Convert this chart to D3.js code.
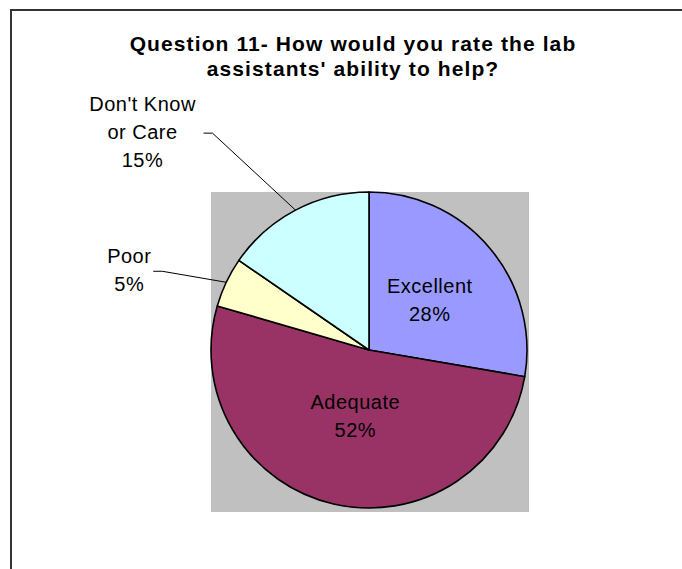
<!DOCTYPE html>
<html>
<head>
<meta charset="utf-8">
<script src="https://cdn.jsdelivr.net/npm/d3@7"></script>
<style>
    body { margin: 0; background: #ffffff; }
    text { font-family: "Liberation Sans", Arial, sans-serif; }
</style>
</head>
<body>
<script>
// Survey answers for question 11 (percent of respondents)
var categories = ["Excellent", "Adequate", "Poor", "Don't Know or Care"];
var values = [27.7, 51.8, 5.1, 15.4];
// How each category name is broken into lines on the chart
var labelLines = [["Excellent"], ["Adequate"], ["Poor"], ["Don't Know", "or Care"]];
var titleLines = ["Question 11- How would you rate the lab", "assistants' ability to help?"];

var colours = ["#9999ff", "#993366", "#ffffcc", "#ccffff"];

// Canvas size
var width = 682,
    height = 569;

// Pie geometry
var cx = 369,
    cy = 350,
    radius = 158;

// Where the labels sit: inside ones are nudged from the centroid,
// outside ones get a leader line with an elbow
var labelLayout = {
    "Excellent": { inside: true, nx: 4, ny: -2 },
    "Adequate": { inside: true, nx: 3, ny: -6 },
    "Poor": { inside: false, ex: -64, ey: -11, tail: 9, lx: -24 },
    "Don't Know or Care": { inside: false, ex: -83, ey: -77, tail: 9, lx: -61 }
};

var lineGap = 28;

var svg = d3.select("body").append("svg")
    .attr("width", width)
    .attr("height", height);

// Chart border (runs off the right and bottom of the picture)
svg.append("rect")
    .attr("x", 11)
    .attr("y", 10)
    .attr("width", 720)
    .attr("height", 620)
    .attr("fill", "none")
    .attr("stroke", "#333333")
    .attr("stroke-width", 2);

// Title
svg.append("text")
    .attr("text-anchor", "middle")
    .attr("font-size", "21px")
    .attr("font-weight", "bold")
    .attr("letter-spacing", "1.1px")
    .selectAll("tspan")
    .data(titleLines)
    .enter()
    .append("tspan")
    .attr("x", 353)
    .attr("y", function (d, i) { return 51 + i * 25; })
    .text(function (d) { return d; });

// Grey plot area behind the pie
svg.append("rect")
    .attr("x", 211)
    .attr("y", 192)
    .attr("width", 318)
    .attr("height", 320)
    .attr("fill", "#c0c0c0");

var data = categories.map(function (c, i) {
    return { name: c, value: values[i], lines: labelLines[i], colour: colours[i] };
});

var pie = d3.pie()
    .sort(null)
    .value(function (d) { return d.value; });

var arc = d3.arc()
    .innerRadius(0)
    .outerRadius(radius);

var labelArc = d3.arc()
    .innerRadius(0)
    .outerRadius(radius * 0.94);

var edgeArc = d3.arc()
    .innerRadius(radius)
    .outerRadius(radius);

var total = d3.sum(values);
var arcs = pie(data);

var g = svg.append("g")
    .attr("transform", "translate(" + cx + "," + cy + ")");

// Slices
g.selectAll("path.slice")
    .data(arcs)
    .enter()
    .append("path")
    .attr("class", "slice")
    .attr("d", arc)
    .attr("fill", function (d) { return d.data.colour; })
    .attr("stroke", "#000000")
    .attr("stroke-width", 1.6)
    .attr("stroke-linejoin", "round");

// Labels and leader lines
arcs.forEach(function (d) {
    var layout = labelLayout[d.data.name];
    var pct = Math.round(d.data.value / total * 100) + "%";
    var lines = d.data.lines.concat([pct]);
    var px, py;

    if (layout.inside) {
        var c = labelArc.centroid(d);
        px = c[0] + layout.nx;
        py = c[1] + layout.ny;
    } else {
        var e = edgeArc.centroid(d);
        var elbowX = e[0] + layout.ex,
            elbowY = e[1] + layout.ey;
        var endX = elbowX - layout.tail;
        g.append("polyline")
            .attr("points", [e, [elbowX, elbowY], [endX, elbowY]].map(function (p) { return p.join(","); }).join(" "))
            .attr("fill", "none")
            .attr("stroke", "#000000")
            .attr("stroke-width", 1);
        px = endX + layout.lx;
        py = elbowY - 1;
    }

    g.append("text")
        .attr("text-anchor", "middle")
        .attr("font-size", "20px")
        .attr("letter-spacing", "0.5px")
        .attr("fill", "#000000")
        .selectAll("tspan")
        .data(lines)
        .enter()
        .append("tspan")
        .attr("x", px)
        .attr("y", function (t, i) { return py + 7 + (i - (lines.length - 1) / 2) * lineGap; })
        .text(function (t) { return t; });
});
</script>
</body>
</html>
